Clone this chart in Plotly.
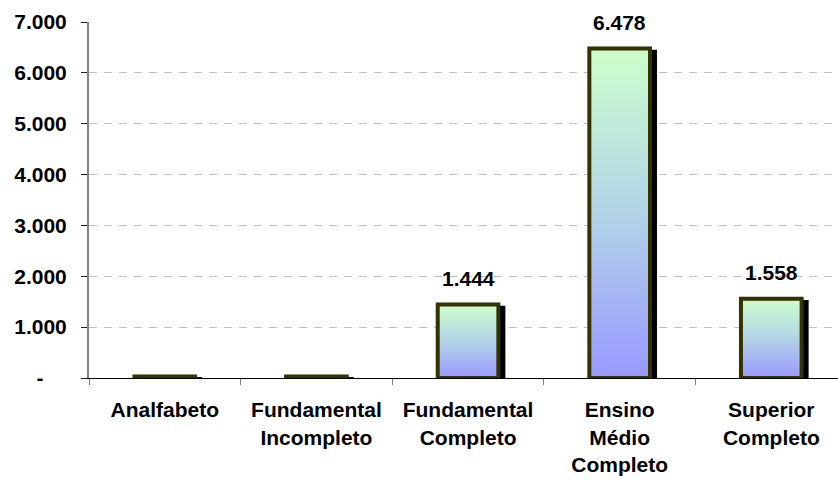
import plotly.graph_objects as go

categories = ["Analfabeto", "Fundamental<br>Incompleto", "Fundamental<br>Completo",
              "Ensino<br>Médio<br>Completo", "Superior<br>Completo"]
values = [30, 30, 1444, 6478, 1558]
show_label = [False, False, True, True, True]
ytick_vals = [0, 1000, 2000, 3000, 4000, 5000, 6000, 7000]
ytick_text = ["-\u00a0\u00a0\u00a0\u00a0", "1.000", "2.000", "3.000", "4.000", "5.000", "6.000", "7.000"]

FONT = "Liberation Sans"
FS = 21
px_per_unit = 356 / 7000.0
px_per_cat = 151.7
half_w = 0.2
shadow_dx = 5 / px_per_cat
shadow_drop = 1.3 / px_per_unit

fig = go.Figure()

# shadows
fig.add_trace(go.Bar(
    x=[i + shadow_dx for i in range(len(values))],
    y=[max(v - shadow_drop, 0) for v in values],
    width=2 * half_w + 4 / px_per_cat,
    marker=dict(color="black", line=dict(width=0)),
    hoverinfo="skip", showlegend=False,
))

# gradient bars
for i, v in enumerate(values):
    fig.add_trace(go.Scatter(
        x=[i - half_w, i - half_w, i + half_w, i + half_w, i - half_w],
        y=[0, v, v, 0, 0],
        mode="lines",
        line=dict(color="#333300", width=4),
        fill="toself",
        fillgradient=dict(type="vertical", start=0, stop=v,
                          colorscale=[[0, "#9999ff"], [0.5, "#b3d3e8"], [1, "#ccffcc"]]),
        hoverinfo="skip", showlegend=False,
    ))
    if show_label[i]:
        fig.add_annotation(x=i, y=v, text=f"{v:,}".replace(",", "."),
                           showarrow=False, yanchor="bottom", yshift=13,
                           font=dict(family=FONT, size=FS, color="black", weight="bold"))

fig.update_layout(
    width=838, height=480,
    margin=dict(l=89, r=0, t=22, b=102),
    paper_bgcolor="white", plot_bgcolor="white",
    showlegend=False,
    barmode="overlay",
    font=dict(family=FONT, size=FS, color="black", weight="bold"),
)
fig.update_xaxes(
    range=[-0.5, 4.44],
    tickmode="array", tickvals=list(range(len(categories))), ticktext=categories,
    ticks="", showgrid=False, zeroline=False,
    showline=True, linecolor="black", linewidth=1,
    ticklabelstandoff=13,
    minor=dict(ticks="outside", ticklen=6, tickcolor="#808080", tickwidth=1,
               tick0=-0.5, dtick=1, showgrid=False),
    tickfont=dict(family=FONT, size=FS, color="black", weight="bold"),
)
fig.update_yaxes(
    range=[0, 7000],
    tickmode="array", tickvals=ytick_vals, ticktext=ytick_text,
    ticks="outside", ticklen=6, tickcolor="#222222", tickwidth=1,
    showline=True, linecolor="#808080", linewidth=2,
    showgrid=True, gridcolor="#c0c0c0", gridwidth=1, griddash="8px,7px",
    zeroline=False,
    ticklabelstandoff=10,
    tickfont=dict(family=FONT, size=FS, color="black", weight="bold"),
)

fig.write_html("out.html")
